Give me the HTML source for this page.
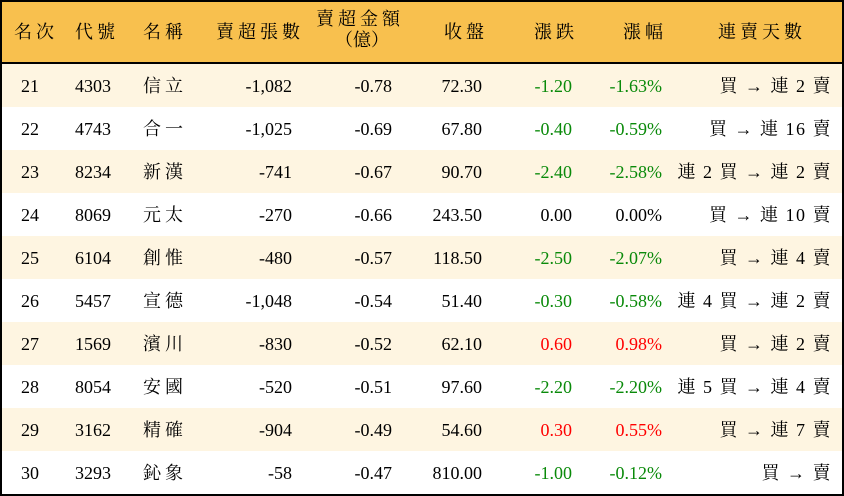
<!DOCTYPE html>
<html><head><meta charset="utf-8"><style>
*{margin:0;padding:0;box-sizing:border-box}
body{width:844px;height:496px;background:#fff;position:relative;overflow:hidden;font-family:"Liberation Serif","Noto Serif CJK SC",serif;font-size:18px;color:#000}
.frame{position:absolute;left:0;top:0;width:844px;height:496px;border:2px solid #000}
.hdr{position:absolute;left:0;top:0;width:844px;height:64px;background:#F8C04E;border-bottom:2px solid #000}
.row{position:absolute;left:0;width:844px;height:43px}
.odd{background:#FEF5E1}
.c{position:absolute;white-space:nowrap;line-height:20px}
.r{text-align:right}
.g{color:#0a8a0a}.red{color:#f00}
.cj{letter-spacing:4px}
.ls{letter-spacing:1.5px}
</style></head><body>
<div class="hdr">
<div class="c cj" style="left:14px;top:22px">名次</div>
<div class="c cj" style="left:75px;top:22px">代號</div>
<div class="c cj" style="left:143px;top:22px">名稱</div>
<div class="c cj" style="left:216px;top:22px">賣超張數</div>
<div class="c cj" style="left:316px;top:9px">賣超金額</div>
<div class="c" style="left:335px;top:30px">（億）</div>
<div class="c cj" style="left:444px;top:22px">收盤</div>
<div class="c cj" style="left:534px;top:22px">漲跌</div>
<div class="c cj" style="left:623px;top:22px">漲幅</div>
<div class="c cj" style="left:718px;top:22px">連賣天數</div>
</div>
<div id="rows"></div>
<div class="frame"></div>
<script>
var d=[["21","4303","信立","-1,082","-0.78","72.30","-1.20","-1.63%","g","買 → 連 2 賣"],
["22","4743","合一","-1,025","-0.69","67.80","-0.40","-0.59%","g","買 → 連 16 賣"],
["23","8234","新漢","-741","-0.67","90.70","-2.40","-2.58%","g","連 2 買 → 連 2 賣"],
["24","8069","元太","-270","-0.66","243.50","0.00","0.00%","","買 → 連 10 賣"],
["25","6104","創惟","-480","-0.57","118.50","-2.50","-2.07%","g","買 → 連 4 賣"],
["26","5457","宣德","-1,048","-0.54","51.40","-0.30","-0.58%","g","連 4 買 → 連 2 賣"],
["27","1569","濱川","-830","-0.52","62.10","0.60","0.98%","red","買 → 連 2 賣"],
["28","8054","安國","-520","-0.51","97.60","-2.20","-2.20%","g","連 5 買 → 連 4 賣"],
["29","3162","精確","-904","-0.49","54.60","0.30","0.55%","red","買 → 連 7 賣"],
["30","3293","鈊象","-58","-0.47","810.00","-1.00","-0.12%","g","買 → 賣"]];
var h="";
d.forEach(function(r,i){
var t=64+i*43;
h+='<div class="row'+(i%2==0?' odd':'')+'" style="top:'+t+'px">'+
'<div class="c" style="left:21px;top:12px">'+r[0]+'</div>'+
'<div class="c" style="left:75px;top:12px">'+r[1]+'</div>'+
'<div class="c cj" style="left:143px;top:12px">'+r[2]+'</div>'+
'<div class="c r" style="right:552px;top:12px">'+r[3]+'</div>'+
'<div class="c r" style="right:452px;top:12px">'+r[4]+'</div>'+
'<div class="c r" style="right:362px;top:12px">'+r[5]+'</div>'+
'<div class="c r '+r[8]+'" style="right:272px;top:12px">'+r[6]+'</div>'+
'<div class="c r '+r[8]+'" style="right:182px;top:12px">'+r[7]+'</div>'+
'<div class="c r ls" style="right:12px;top:12px">'+r[9]+'</div>'+
'</div>';});
document.getElementById("rows").innerHTML=h;
</script>
</body></html>
